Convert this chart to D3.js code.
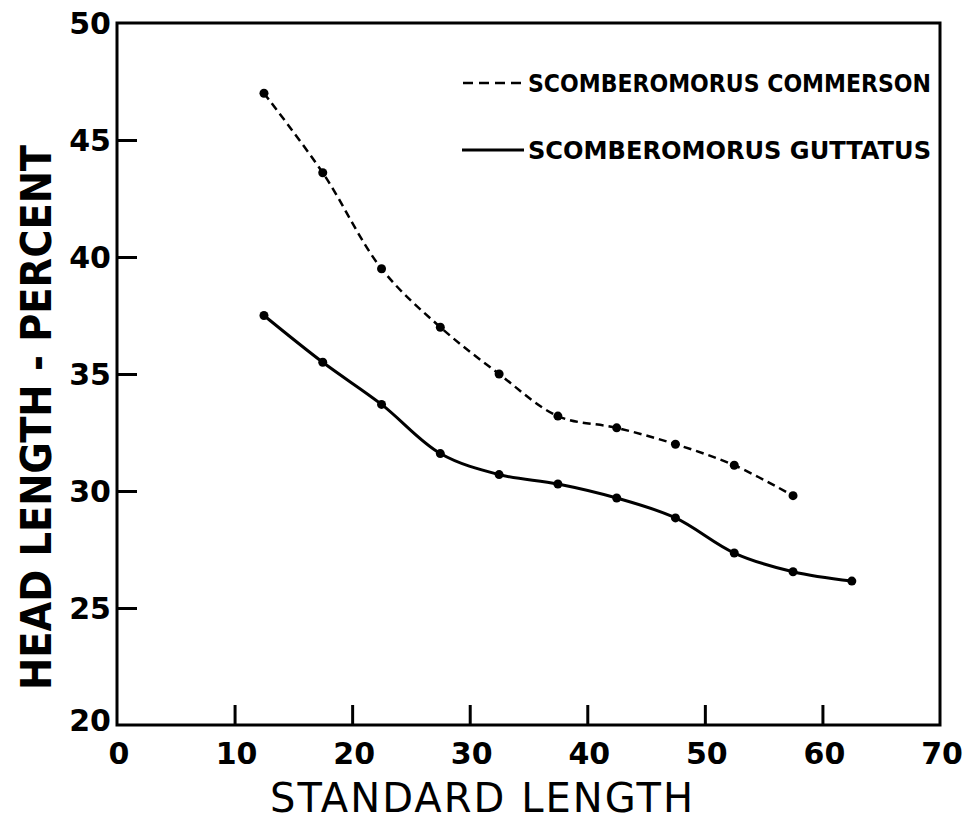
<!DOCTYPE html>
<html>
<head>
<meta charset="utf-8">
<script src="https://cdn.jsdelivr.net/npm/d3@7"></script>
<style>
  body { margin: 0; background: #fff; }
  text { font-family: "DejaVu Sans", sans-serif; fill: #000; }
</style>
</head>
<body>
<div id="chart"></div>
<script>
var svgWidth = 964;
var svgHeight = 819;

// Data
var lengths = [12.5, 17.5, 22.5, 27.5, 32.5, 37.5, 42.5, 47.5, 52.5, 57.5, 62.5];
var commerson = [47.0, 43.6, 39.5, 37.0, 35.0, 33.2, 32.7, 32.0, 31.1, 29.8];
var guttatus = [37.5, 35.5, 33.7, 31.6, 30.7, 30.3, 29.7, 28.85, 27.35, 26.55, 26.15];
var xTicks = [0, 10, 20, 30, 40, 50, 60, 70];
var yTicks = [20, 25, 30, 35, 40, 45, 50];
var seriesNames = ["SCOMBEROMORUS COMMERSON", "SCOMBEROMORUS GUTTATUS"];

var plotLeft = 117, plotRight = 940, plotTop = 23, plotBottom = 725;

var svg = d3.select("#chart")
  .append("svg")
  .attr("width", svgWidth)
  .attr("height", svgHeight);

var x = d3.scaleLinear().domain([0, 70]).range([plotLeft, plotRight]);
var y = d3.scaleLinear().domain([20, 50]).range([plotBottom, plotTop]);

// frame
svg.append("rect")
  .attr("x", plotLeft).attr("y", plotTop)
  .attr("width", plotRight - plotLeft).attr("height", plotBottom - plotTop)
  .attr("fill", "none")
  .attr("stroke", "#000")
  .attr("stroke-width", 3);

// x axis (ticks point inward)
var bottomAxis = d3.axisBottom(x).tickValues(xTicks.slice(1, 7)).tickSize(-20).tickFormat("");
svg.append("g")
  .attr("transform", `translate(0, ${plotBottom})`)
  .call(bottomAxis)
  .call(g => g.select(".domain").remove())
  .call(g => g.selectAll(".tick line").attr("stroke-width", 3));

svg.append("g").selectAll("text")
  .data(xTicks)
  .enter()
  .append("text")
  .attr("x", d => x(d) + 2)
  .attr("y", 764)
  .attr("text-anchor", "middle")
  .style("font-size", "30px")
  .style("font-weight", "bold")
  .text(d => d);

// y axis
var leftAxis = d3.axisLeft(y).tickValues(yTicks.slice(1, 6)).tickSize(-20).tickFormat("");
svg.append("g")
  .attr("transform", `translate(${plotLeft}, 0)`)
  .call(leftAxis)
  .call(g => g.select(".domain").remove())
  .call(g => g.selectAll(".tick line").attr("stroke-width", 3));

svg.append("g").selectAll("text")
  .data(yTicks)
  .enter()
  .append("text")
  .attr("x", 111)
  .attr("y", d => d === 20 ? y(d) + 6 : y(d) + 11)
  .attr("text-anchor", "end")
  .style("font-size", "30px")
  .style("font-weight", "bold")
  .text(d => d);

// curves
var line = d3.line()
  .x(d => x(d[0]))
  .y(d => y(d[1]))
  .curve(d3.curveCatmullRom.alpha(0.5));

var commData = commerson.map((v, i) => [lengths[i], v]);
var guttData = guttatus.map((v, i) => [lengths[i], v]);

svg.append("path")
  .datum(commData)
  .attr("d", line)
  .attr("fill", "none")
  .attr("stroke", "#000")
  .attr("stroke-width", 2.5)
  .attr("stroke-dasharray", "8,5");

svg.append("path")
  .datum(guttData)
  .attr("d", line)
  .attr("fill", "none")
  .attr("stroke", "#000")
  .attr("stroke-width", 3);

svg.append("g").selectAll("circle")
  .data(commData.concat(guttData))
  .enter()
  .append("circle")
  .attr("cx", d => x(d[0]))
  .attr("cy", d => y(d[1]))
  .attr("r", 4.5)
  .attr("fill", "#000");

// legend
svg.append("line")
  .attr("x1", 463).attr("x2", 525)
  .attr("y1", 83).attr("y2", 83)
  .attr("stroke", "#000")
  .attr("stroke-width", 2.5)
  .attr("stroke-dasharray", "10,6");

svg.append("line")
  .attr("x1", 462).attr("x2", 524)
  .attr("y1", 150).attr("y2", 150)
  .attr("stroke", "#000")
  .attr("stroke-width", 3);

svg.append("g").selectAll("text")
  .data(seriesNames)
  .enter()
  .append("text")
  .attr("x", 528)
  .attr("y", (d, i) => i === 0 ? 92 : 159)
  .attr("textLength", 403)
  .attr("lengthAdjust", "spacingAndGlyphs")
  .style("font-size", "24px")
  .style("font-weight", "bold")
  .text(d => d);

// axis titles
svg.append("text")
  .attr("x", 270)
  .attr("y", 812)
  .attr("textLength", 423)
  .attr("lengthAdjust", "spacing")
  .style("font-size", "40px")
  .text("STANDARD LENGTH");

svg.append("text")
  .attr("transform", "translate(51, 690) rotate(-90)")
  .attr("x", 0)
  .attr("y", 0)
  .attr("textLength", 545)
  .attr("lengthAdjust", "spacingAndGlyphs")
  .style("font-size", "42px")
  .style("font-weight", "bold")
  .text("HEAD LENGTH - PERCENT");
</script>
</body>
</html>
